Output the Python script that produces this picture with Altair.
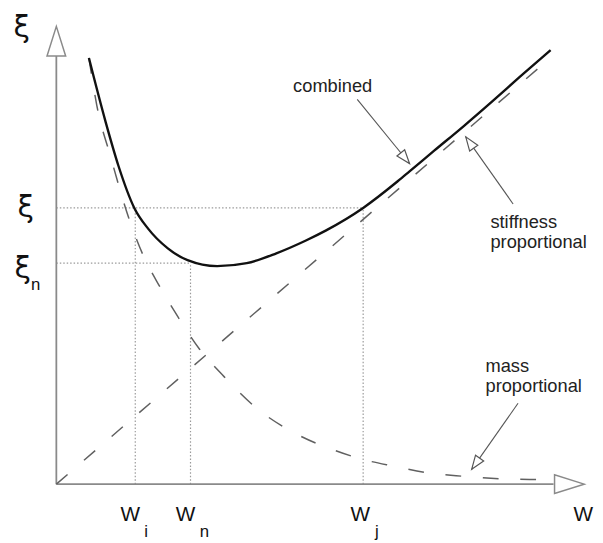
import math
import altair as alt
import pandas as pd

# ---- data (abstract units) ----
# combined damping curve
comb_w = [0.66, 1.00, 1.26, 1.58, 1.86, 2.26, 2.66, 3.26, 3.86, 4.46, 5.06, 5.46, 6.22, 6.92, 7.16, 7.66, 8.26, 8.86, 9.40, 10.02]
comb_xi = [8.64, 7.34, 6.45, 5.60, 5.18, 4.78, 4.54, 4.42, 4.48, 4.68, 4.94, 5.14, 5.60, 6.14, 6.34, 6.76, 7.26, 7.78, 8.26, 8.80]
# mass proportional curve
mass_w = [0.66, 0.82, 1.10, 1.46, 1.76, 2.10, 2.46, 2.90, 3.40, 4.06, 4.86, 5.66, 6.22, 6.86, 7.46, 8.24, 8.98, 9.80, 10.00]
mass_xi = [8.64, 7.68, 6.64, 5.42, 4.64, 4.00, 3.40, 2.74, 2.18, 1.54, 1.02, 0.68, 0.50, 0.36, 0.24, 0.16, 0.11, 0.09, 0.08]
# stiffness proportional line
stiff_w = [0.0, 10.06]
stiff_xi = [0.0, 8.68]

# reference frequencies / damping levels
w_i, w_n, w_j = 1.60, 2.72, 6.22
xi_level, xi_n = 5.60, 4.48

# axes extents
x_axis_end, x_arrow_tip = 10.08, 10.70
y_axis_end, y_arrow_tip = 8.68, 9.28

# annotation arrows: label anchor -> tip
ann_from_w = [6.10, 9.26, 9.36]
ann_from_xi = [7.80, 5.68, 1.64]
ann_to_w = [7.16, 8.30, 8.42]
ann_to_xi = [6.50, 7.04, 0.30]

X_DOM = [-0.98, 10.92]
Y_DOM = [-1.12, 9.58]
xs = alt.Scale(domain=X_DOM, nice=False, zero=False)
ys = alt.Scale(domain=Y_DOM, nice=False, zero=False)

def X(f="w"):
    return alt.X(f"{f}:Q", scale=xs, axis=None)

def Y(f="xi"):
    return alt.Y(f"{f}:Q", scale=ys, axis=None)

GRAY_AX = "#8a8a8a"
DASH_C = "#606060"
DOT_C = "#9a9a9a"
FONT = "Liberation Sans"

# axes lines
axes_df = pd.DataFrame({
    "w": [0, 0], "xi": [0, 0],
    "w2": [x_axis_end, 0], "xi2": [0, y_axis_end],
})
axes = alt.Chart(axes_df).mark_rule(color=GRAY_AX, strokeWidth=1.8).encode(
    x=X("w"), y=Y("xi"), x2="w2:Q", y2="xi2:Q")

# axis arrowheads
ah_df = pd.DataFrame({"w": [0, x_arrow_tip], "xi": [y_arrow_tip, 0], "ang": [0, 90]})
axis_heads = alt.Chart(ah_df).mark_point(
    shape="M 0 0 L -0.63 2 L 0.63 2 Z", size=900, filled=True,
    fill="white", stroke=GRAY_AX, strokeWidth=1.5, opacity=1
).encode(x=X("w"), y=Y("xi"), angle=alt.Angle("ang:Q", scale=None))

# dotted guide lines
guide_df = pd.DataFrame({
    "w":  [0, 0, w_i, w_n, w_j],
    "xi": [xi_level, xi_n, 0, 0, 0],
    "w2": [w_j, w_n, w_i, w_n, w_j],
    "xi2": [xi_level, xi_n, xi_level, xi_n, xi_level],
})
guides = alt.Chart(guide_df).mark_rule(color=DOT_C, strokeWidth=1.2, strokeDash=[1.5, 2]).encode(
    x=X("w"), y=Y("xi"), x2="w2:Q", y2="xi2:Q")

stiff = alt.Chart(pd.DataFrame({"w": stiff_w, "xi": stiff_xi})).mark_line(
    color=DASH_C, strokeWidth=1.5, strokeDash=[15, 22]).encode(x=X(), y=Y())

mass = alt.Chart(pd.DataFrame({"w": mass_w, "xi": mass_xi, "o": range(len(mass_w))})).mark_line(
    color=DASH_C, strokeWidth=1.5, strokeDash=[16, 22], interpolate="monotone").encode(
    x=X(), y=Y(), order="o:Q")

comb = alt.Chart(pd.DataFrame({"w": comb_w, "xi": comb_xi, "o": range(len(comb_w))})).mark_line(
    color="#111111", strokeWidth=2.4, interpolate="monotone").encode(
    x=X(), y=Y(), order="o:Q")

# annotation arrows
angs = [(math.degrees(math.atan2(tw - fw, tx - fx)) % 360)
        for fw, fx, tw, tx in zip(ann_from_w, ann_from_xi, ann_to_w, ann_to_xi)]
ann_df = pd.DataFrame({"w": ann_from_w, "xi": ann_from_xi, "w2": ann_to_w, "xi2": ann_to_xi, "ang": angs})
ann_lines = alt.Chart(ann_df).mark_rule(color="#555555", strokeWidth=1.1).encode(
    x=X("w"), y=Y("xi"), x2="w2:Q", y2="xi2:Q")
ann_heads = alt.Chart(ann_df).mark_point(
    shape="M 0 0 L -0.36 1 L 0.36 1 Z", size=784, filled=True,
    fill="white", stroke="#555555", strokeWidth=1.2, opacity=1
).encode(x=X("w2"), y=Y("xi2"), angle=alt.Angle("ang:Q", scale=None))

# labels
left_df = pd.DataFrame({
    "w": [4.80, 8.80, 8.80, 8.70, 8.70],
    "xi": [8.08, 5.32, 4.90, 2.40, 1.98],
    "t": ["combined", "stiffness", "proportional", "mass", "proportional"],
})
left_text = alt.Chart(left_df).mark_text(
    align="left", baseline="middle", font=FONT, fontSize=18.5, color="#222222").encode(
    x=X(), y=Y(), text="t:N")

xi_df = pd.DataFrame({
    "w": [-0.70, -0.62, -0.68],
    "xi": [9.24, 5.60, 4.36],
    "t": ["ξ", "ξ", "ξ"],
})
xi_text = alt.Chart(xi_df).mark_text(
    align="center", baseline="middle", font="DejaVu Sans", fontSize=30, color="#111111").encode(
    x=X(), y=Y(), text="t:N")

w_df = pd.DataFrame({
    "w": [1.50, 2.62, 6.16, 10.68],
    "xi": [-0.62, -0.62, -0.62, -0.62],
    "t": ["W", "W", "W", "W"],
})
w_text = alt.Chart(w_df).mark_text(
    align="center", baseline="middle", font=FONT, fontSize=21, color="#111111").encode(
    x=X(), y=Y(), text="t:N")

sub_df = pd.DataFrame({
    "w": [-0.42, 1.82, 3.00, 6.50],
    "xi": [4.04, -0.98, -0.98, -0.98],
    "t": ["n", "i", "n", "j"],
})
sub_text = alt.Chart(sub_df).mark_text(
    align="center", baseline="middle", font=FONT, fontSize=17, color="#111111").encode(
    x=X(), y=Y(), text="t:N")

chart = alt.layer(
    guides, axes, stiff, mass, comb, ann_lines, ann_heads, axis_heads,
    left_text, xi_text, w_text, sub_text
).properties(
    width=595, height=535, padding=0,
    autosize=alt.AutoSizeParams(type="none"),
    background="white",
).configure_view(stroke=None)

chart.save("out.html", embed_options={"renderer": "svg", "actions": False})
